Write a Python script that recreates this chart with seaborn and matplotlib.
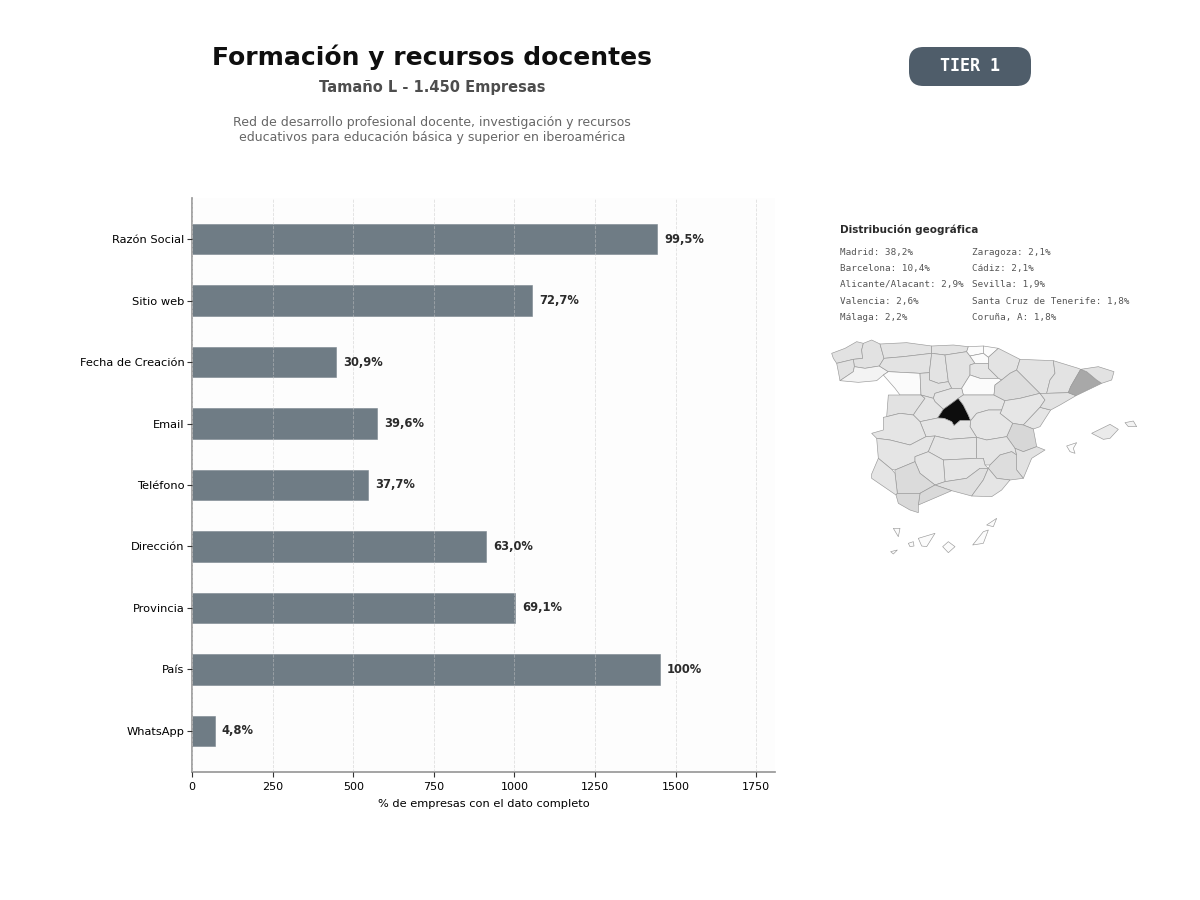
import matplotlib.pyplot as plt
import numpy as np
import pandas as pd
import seaborn as sns

from matplotlib.collections import PolyCollection
from matplotlib.colors import LinearSegmentedColormap
from matplotlib.patches import FancyBboxPatch

campos = ['Razón Social', 'Sitio web', 'Fecha de Creación', 'Email', 'Teléfono',
          'Dirección', 'Provincia', 'País', 'WhatsApp']
empresas = [1443, 1054, 448, 574, 547, 913, 1002, 1450, 70]
etiquetas = ['99,5%', '72,7%', '30,9%', '39,6%', '37,7%', '63,0%', '69,1%', '100%', '4,8%']
x_ticks = [0, 250, 500, 750, 1000, 1250, 1500, 1750]

col_izq = ['Madrid: 38,2%', 'Barcelona: 10,4%', 'Alicante/Alacant: 2,9%', 'Valencia: 2,6%', 'Málaga: 2,2%']
col_der = ['Zaragoza: 2,1%', 'Cádiz: 2,1%', 'Sevilla: 1,9%', 'Santa Cruz de Tenerife: 1,8%', 'Coruña, A: 1,8%']

# peso de cada provincia y su silueta aproximada (traza en unidades del recorte del mapa)
provincias = {
    'Coruña':     (1.0, [(35,70),(75,55),(110,35),(130,40),(125,60),(128,85),(100,88),(50,100),(40,85)]),
    'Lugo':       (0.9, [(130,40),(155,30),(180,42),(192,85),(178,108),(135,115),(103,110),(100,88),(128,85),(125,60)]),
    'Pontevedra': (0.9, [(50,100),(100,88),(103,110),(100,125),(60,152),(55,125)]),
    'Ourense':    (0.15, [(100,125),(103,110),(135,115),(178,108),(205,125),(190,135),(170,152),(115,157),(60,152)]),
    'Asturias':   (0.8, [(180,42),(260,38),(335,48),(335,70),(250,80),(192,85)]),
    'León':       (0.8, [(192,85),(250,80),(335,70),(328,128),(300,130),(205,125),(178,108)]),
    'Zamora':     (0.12, [(205,125),(300,130),(303,195),(240,195),(225,175),(190,135)]),
    'Cantabria':  (0.8, [(335,48),(400,45),(445,50),(440,65),(375,75),(335,70)]),
    'Palencia':   (0.8, [(335,70),(375,75),(385,155),(355,160),(328,150),(328,128)]),
    'Burgos':     (0.8, [(375,75),(440,65),(450,78),(465,100),(450,105),(450,135),(425,175),(395,175),(385,155)]),
    'Bizkaia':    (0.04, [(445,50),(490,48),(490,70),(450,78),(440,65)]),
    'Gipuzkoa':   (0.04, [(490,48),(535,55),(505,82),(490,70)]),
    'Araba':      (0.08, [(450,78),(490,70),(505,82),(505,100),(465,100)]),
    'Navarra':    (0.8, [(505,82),(535,55),(600,88),(590,120),(570,130),(545,150),(535,145),(505,115),(505,100)]),
    'Rioja':      (0.7, [(465,100),(505,100),(505,115),(535,145),(480,145),(450,135),(450,105)]),
    'Soria':      (0.12, [(425,175),(450,135),(480,145),(535,145),(545,150),(525,165),(522,195),(430,195)]),
    'Valladolid': (0.9, [(300,130),(328,128),(328,150),(355,160),(385,155),(395,175),(345,190),(340,205),(303,195)]),
    'Segovia':    (0.7, [(345,190),(395,175),(425,175),(430,195),(415,205),(395,220),(370,238),(345,215),(340,205)]),
    'Salamanca':  (0.9, [(205,195),(240,195),(303,195),(315,205),(290,240),(280,255),(240,250),(200,260)]),
    'Ávila':      (0.6, [(303,195),(340,205),(345,215),(370,238),(353,264),(300,275),(280,255),(290,240),(315,205)]),
    'Madrid':     (38.2, [(415,205),(430,225),(445,255),(452,272),(420,272),(402,287),(395,275),(372,265),(353,264),(370,238),(395,220)]),
    'Guadalajara': (0.6, [(430,195),(522,195),(555,212),(545,240),(505,240),(470,250),(452,272),(445,255),(430,225),(415,205)]),
    'Zaragoza':   (1.6, [(522,195),(525,165),(545,150),(570,130),(590,120),(660,190),(600,205),(555,212)]),
    'Teruel':     (0.5, [(555,212),(600,205),(660,190),(675,210),(660,232),(610,285),(578,280),(540,250),(545,240)]),
    'Castellón':  (0.7, [(610,285),(660,232),(692,240),(660,290),(640,297)]),
    'Valencia':   (2.6, [(578,280),(610,285),(640,297),(650,350),(610,365),(585,355),(560,320)]),
    'Huesca':     (0.8, [(600,88),(700,92),(705,130),(690,150),(680,190),(660,190),(590,120)]),
    'Lleida':     (0.8, [(700,92),(775,115),(782,118),(752,170),(745,188),(680,190),(690,150),(705,130)]),
    'Tarragona':  (0.9, [(660,190),(680,190),(745,188),(768,197),(720,225),(692,240),(660,232),(675,210)]),
    'Barcelona':  (10.4, [(782,118),(800,125),(830,150),(845,160),(768,197),(745,188),(752,170)]),
    'Girona':     (1.0, [(782,118),(835,110),(882,125),(875,150),(845,160),(830,150),(800,125)]),
    'Cuenca':     (0.5, [(452,272),(470,250),(505,240),(545,240),(540,250),(578,280),(560,320),(500,330),(470,322),(450,290)]),
    'Toledo':     (0.7, [(300,275),(353,264),(372,265),(395,275),(402,287),(420,272),(452,272),(450,290),(470,322),(390,328),(345,318),(318,320)]),
    'Cáceres':    (0.7, [(155,310),(190,300),(190,262),(200,260),(240,250),(280,255),(300,275),(318,320),(270,345),(210,330),(170,325)]),
    'Badajoz':    (0.7, [(170,325),(210,330),(270,345),(318,320),(345,318),(325,365),(285,380),(285,395),(225,420),(215,418),(175,385)]),
    'Ciudad Real': (0.7, [(345,318),(390,328),(470,322),(470,385),(370,390),(325,365)]),
    'Albacete':   (0.6, [(470,322),(500,330),(560,320),(585,355),(590,375),(575,365),(540,375),(510,405),(495,405),(490,385),(470,385)]),
    'Alicante':   (0.9, [(585,355),(610,365),(650,350),(675,360),(635,385),(610,445),(590,420),(590,375)]),
    'Murcia':     (1.5, [(510,405),(540,375),(575,365),(590,375),(590,420),(610,445),(570,450),(530,445),(505,415)]),
    'Jaén':       (0.7, [(370,390),(470,385),(490,385),(495,405),(505,415),(480,415),(440,445),(375,455)]),
    'Córdoba':    (0.7, [(285,380),(325,365),(370,390),(375,455),(345,465),(300,430),(285,395)]),
    'Sevilla':    (1.9, [(225,420),(285,395),(300,430),(345,465),(300,490),(232,490),(225,430)]),
    'Huelva':     (0.7, [(155,432),(175,385),(215,418),(225,430),(232,490),(228,495),(155,445)]),
    'Granada':    (1.1, [(375,455),(440,445),(480,415),(505,415),(490,450),(455,498),(395,482),(345,465)]),
    'Almería':    (0.7, [(505,415),(530,445),(570,450),(545,480),(515,500),(455,498),(490,450)]),
    'Málaga':     (2.2, [(300,490),(345,465),(395,482),(365,495),(295,525)]),
    'Cádiz':      (2.1, [(228,495),(232,490),(300,490),(295,525),(295,548),(270,540),(235,520)]),
    'Mallorca':   (0.3, [(815,310),(870,283),(895,298),(870,325),(850,328)]),
    'Menorca':    (0.2, [(915,278),(940,273),(950,290),(925,290)]),
    'Ibiza':      (0.1, [(740,348),(770,338),(760,355),(765,370),(750,365)]),
    'La Palma':   (0.03, [(220,595),(240,595),(235,620)]),
    'Gomera':     (0.03, [(265,640),(280,635),(282,648),(270,650)]),
    'Tenerife':   (0.1, [(295,625),(345,610),(320,650),(305,648)]),
    'Gran Canaria': (0.1, [(368,650),(385,635),(405,650),(385,668)]),
    'Fuerteventura': (0.03, [(458,645),(490,605),(505,600),(490,640)]),
    'Lanzarote':  (0.1, [(500,585),(530,565),(520,590)]),
    'Hierro':     (0.03, [(212,665),(232,660),(220,672)]),
}

sns.set_theme(style='white')
plt.rcParams['font.family'] = ['DejaVu Sans']

df = pd.DataFrame({'campo': campos, 'empresas': empresas})

fig = plt.figure(figsize=(12, 9), dpi=100, facecolor='white')
ax = fig.add_axes([192 / 1200, 1 - 772 / 900, 583 / 1200, 574 / 900])
ax.set_facecolor('#fdfdfd')

sns.barplot(data=df, x='empresas', y='campo', orient='h', color='#6f7c85', saturation=1,
            width=0.5, edgecolor='#7a868e', linewidth=0.4, ax=ax)

ax.set_xlim(0, 1808)
ax.set_ylim(8.667, -0.667)
ax.set_xticks(x_ticks)
ax.tick_params(axis='x', labelsize=8, length=3.5, width=0.8, color='#333333', labelcolor='black', pad=3.5, bottom=True)
ax.tick_params(axis='y', labelsize=8.2, length=3.5, width=0.8, color='#333333', labelcolor='black', pad=2, left=True)
ax.set_ylabel('')
ax.set_xlabel('% de empresas con el dato completo', fontsize=8.2, color='black', labelpad=5.5)
ax.grid(axis='x', linestyle='--', linewidth=0.6, color='#c8c8c8', alpha=0.55)
ax.set_axisbelow(False)
sns.despine(ax=ax)
ax.spines['left'].set_color('#999999')
ax.spines['bottom'].set_color('#999999')

for i, (v, t) in enumerate(zip(empresas, etiquetas)):
    ax.annotate(t, (v, i), xytext=(5, 0), textcoords='offset points', va='center', ha='left',
                fontsize=8.3, fontweight='bold', color='#2b2b2b')

# cabecera
fig.text(432 / 1200, 1 - 57.5 / 900, 'Formación y recursos docentes', ha='center', va='center',
         fontsize=18, fontweight='bold', color='#0f0f0f')
fig.text(432 / 1200, 1 - 87.5 / 900, 'Tamaño L - 1.450 Empresas', ha='center', va='center',
         fontsize=10.5, fontweight='bold', color='#4d4d4d')
fig.text(432 / 1200, 1 - 130 / 900,
         'Red de desarrollo profesional docente, investigación y recursos\neducativos para educación básica y superior en iberoamérica',
         ha='center', va='center', fontsize=9, color='#666666', linespacing=1.15)

badge = FancyBboxPatch((909 / 1200, 1 - 86 / 900), 122 / 1200, 39 / 900, transform=fig.transFigure,
                       boxstyle='round,pad=0,rounding_size=0.012', mutation_aspect=1.33,
                       facecolor='#4f5d6a', edgecolor='none')
fig.patches.append(badge)
fig.text(970 / 1200, 1 - 66 / 900, 'TIER 1', ha='center', va='center', fontsize=12,
         fontweight='bold', family='DejaVu Sans Mono', color='white')

# distribucion geografica
fig.text(840 / 1200, 1 - 230 / 900, 'Distribución geográfica', ha='left', va='center',
         fontsize=7.5, fontweight='bold', color='#2b2b2b')
for i, t in enumerate(col_izq):
    fig.text(840 / 1200, 1 - (252.5 + i * 16.2) / 900, t, ha='left', va='center', fontsize=6.65,
             family='DejaVu Sans Mono', color='#555555')
for i, t in enumerate(col_der):
    fig.text(972 / 1200, 1 - (252.5 + i * 16.2) / 900, t, ha='left', va='center', fontsize=6.65,
             family='DejaVu Sans Mono', color='#555555')

# mapa
grises = LinearSegmentedColormap.from_list(
    'grises', [(0, '#fbfbfb'), (0.01, '#e7e7e7'), (0.03, '#dfdfdf'), (0.07, '#d6d6d6'), (0.27, '#a8a8a8'), (1, '#0d0d0d')])
pesos = np.array([p[0] for p in provincias.values()])
siluetas = [np.array(p[1]) for p in provincias.values()]

ax_map = fig.add_axes([820 / 1200, 1 - 565 / 900, 330 / 1200, 235 / 900])
mapa = PolyCollection(siluetas, array=pesos / 38.2, cmap=grises, clim=(0, 1),
                      edgecolors='#999999', linewidths=0.45)
ax_map.add_collection(mapa)
ax_map.set_xlim(0, 990)
ax_map.set_ylim(705, 0)
ax_map.axis('off')

fig.savefig('out.png', dpi=100)
